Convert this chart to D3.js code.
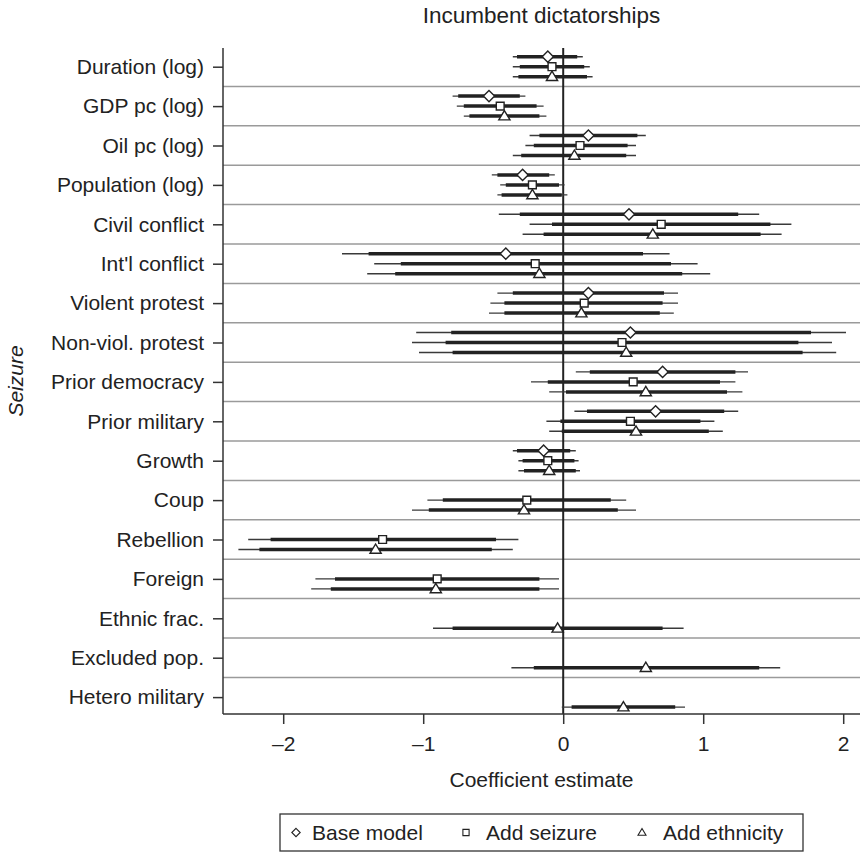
<!DOCTYPE html>
<html>
<head>
<meta charset="utf-8">
<script src="https://cdn.jsdelivr.net/npm/d3@7"></script>
<style>
  html, body { margin: 0; padding: 0; background: #fff; }
  svg { display: block; font-family: "Liberation Sans", Arial, Helvetica, sans-serif; }
</style>
</head>
<body>
<svg id="chart" width="865" height="856"></svg>
<script>
// Covariates (rows, top to bottom)
const categories = [
  "Duration (log)", "GDP pc (log)", "Oil pc (log)", "Population (log)",
  "Civil conflict", "Int'l conflict", "Violent protest", "Non-viol. protest",
  "Prior democracy", "Prior military", "Growth", "Coup", "Rebellion",
  "Foreign", "Ethnic frac.", "Excluded pop.", "Hetero military"
];

const seriesNames = ["Base model", "Add seizure", "Add ethnicity"];
const xTicks = [-2, -1, 0, 1, 2];

// Each model: [estimate, lower 95%, lower 90%, upper 90%, upper 95%]; null = not in model
const baseModel = [
  [-0.11, -0.36, -0.33, 0.10, 0.14],
  [-0.53, -0.79, -0.75, -0.31, -0.27],
  [0.18, -0.24, -0.17, 0.53, 0.59],
  [-0.29, -0.51, -0.47, -0.10, -0.06],
  [0.47, -0.46, -0.31, 1.25, 1.40],
  [-0.41, -1.58, -1.39, 0.57, 0.76],
  [0.18, -0.47, -0.36, 0.72, 0.82],
  [0.48, -1.05, -0.80, 1.77, 2.02],
  [0.71, 0.09, 0.19, 1.23, 1.32],
  [0.66, 0.08, 0.17, 1.15, 1.25],
  [-0.14, -0.36, -0.33, 0.05, 0.09],
  null, null, null, null, null, null
];

const addSeizure = [
  [-0.08, -0.36, -0.31, 0.15, 0.19],
  [-0.45, -0.76, -0.71, -0.19, -0.14],
  [0.12, -0.27, -0.21, 0.46, 0.52],
  [-0.22, -0.45, -0.41, -0.03, 0.01],
  [0.70, -0.24, -0.08, 1.48, 1.63],
  [-0.20, -1.35, -1.16, 0.77, 0.96],
  [0.15, -0.52, -0.42, 0.71, 0.82],
  [0.42, -1.08, -0.84, 1.68, 1.92],
  [0.50, -0.23, -0.11, 1.12, 1.23],
  [0.48, -0.12, -0.02, 0.98, 1.08],
  [-0.11, -0.32, -0.29, 0.08, 0.11],
  [-0.26, -0.97, -0.86, 0.34, 0.45],
  [-1.29, -2.25, -2.09, -0.48, -0.32],
  [-0.90, -1.77, -1.63, -0.17, -0.03],
  null, null, null
];

const addEthnicity = [
  [-0.08, -0.36, -0.32, 0.17, 0.21],
  [-0.42, -0.71, -0.67, -0.17, -0.12],
  [0.08, -0.36, -0.30, 0.45, 0.52],
  [-0.22, -0.47, -0.44, -0.01, 0.03],
  [0.64, -0.29, -0.14, 1.41, 1.56],
  [-0.17, -1.40, -1.20, 0.85, 1.05],
  [0.13, -0.53, -0.42, 0.69, 0.79],
  [0.45, -1.03, -0.79, 1.71, 1.95],
  [0.59, -0.10, 0.02, 1.17, 1.28],
  [0.52, -0.10, -0.01, 1.04, 1.14],
  [-0.10, -0.32, -0.28, 0.09, 0.12],
  [-0.28, -1.08, -0.96, 0.39, 0.52],
  [-1.34, -2.32, -2.17, -0.51, -0.36],
  [-0.91, -1.80, -1.66, -0.17, -0.03],
  [-0.04, -0.93, -0.79, 0.71, 0.86],
  [0.59, -0.37, -0.21, 1.40, 1.55],
  [0.43, -0.01, 0.06, 0.80, 0.87]
];

const models = [baseModel, addSeizure, addEthnicity];

// ---- layout ----
const plot = { left: 223, right: 860, top: 48, bottom: 714 };
const textColor = "#222";
const fontSize = 21;

const svg = d3.select("#chart");

const x = d3.scaleLinear().domain([-2.43, 2.12]).range([plot.left, plot.right]);
const y = d3.scalePoint().domain(categories).range([66.7, 697.1]);
const step = y.step();
const offset = d3.scaleOrdinal().domain([0, 1, 2]).range([-10, 0, 10]);

// horizontal separators between rows
svg.append("g")
  .selectAll("line")
  .data(categories.slice(1))
  .join("line")
  .attr("x1", plot.left).attr("x2", plot.right)
  .attr("y1", d => y(d) - step / 2).attr("y2", d => y(d) - step / 2)
  .attr("stroke", "#9a9a9a").attr("stroke-width", 1.5);

// reference line at zero
svg.append("line")
  .attr("x1", x(0)).attr("x2", x(0))
  .attr("y1", plot.top).attr("y2", plot.bottom)
  .attr("stroke", "#222").attr("stroke-width", 2);

// left axis
const yAxis = svg.append("g")
  .attr("transform", `translate(${plot.left},0)`)
  .call(d3.axisLeft(y).tickSize(10).tickPadding(9));
yAxis.select(".domain").remove();
yAxis.selectAll(".tick line").attr("stroke", "#333").attr("stroke-width", 1.5);
yAxis.selectAll(".tick text")
  .attr("fill", textColor).style("font-size", fontSize + "px")
  .style("font-family", "Liberation Sans, Arial, sans-serif");

svg.append("line")
  .attr("x1", plot.left).attr("x2", plot.left)
  .attr("y1", plot.top).attr("y2", plot.bottom)
  .attr("stroke", "#333").attr("stroke-width", 1.5);

// bottom axis
const xAxis = svg.append("g")
  .attr("transform", `translate(0,${plot.bottom})`)
  .call(d3.axisBottom(x).tickValues(xTicks).tickSize(10).tickPadding(12)
    .tickFormat(d => d < 0 ? "\u2013" + Math.abs(d) : String(d)));
xAxis.select(".domain").remove();
xAxis.selectAll(".tick line").attr("stroke", "#333").attr("stroke-width", 1.5);
xAxis.selectAll(".tick text")
  .attr("fill", textColor).style("font-size", fontSize + "px")
  .style("font-family", "Liberation Sans, Arial, sans-serif");

svg.append("line")
  .attr("x1", plot.left).attr("x2", plot.right)
  .attr("y1", plot.bottom).attr("y2", plot.bottom)
  .attr("stroke", "#333").attr("stroke-width", 1.5);

// marker shapes: diamond, square, flattened triangle
function diamondPath(r) {
  const p = d3.path();
  p.moveTo(0, -r); p.lineTo(r, 0); p.lineTo(0, r); p.lineTo(-r, 0); p.closePath();
  return p.toString();
}
function squarePath(h) {
  const p = d3.path();
  p.rect(-h, -h, 2 * h, 2 * h);
  return p.toString();
}
function trianglePath(w, up, down) {
  const p = d3.path();
  p.moveTo(0, -up); p.lineTo(w, down); p.lineTo(-w, down); p.closePath();
  return p.toString();
}
const markers = [diamondPath(5.6), squarePath(3.9), trianglePath(5.6, 5.5, 3.8)];
const legendMarkers = [diamondPath(4.2), squarePath(3.1), trianglePath(4, 4, 2.8)];

// intervals and estimates
models.forEach((model, m) => {
  const rows = categories
    .map((c, i) => ({ cat: c, v: model[i] }))
    .filter(d => d.v !== null);
  const g = svg.append("g");
  const yy = d => y(d.cat) + offset(m);

  g.selectAll("line.ci95").data(rows).join("line")
    .attr("class", "ci95")
    .attr("x1", d => x(d.v[1])).attr("x2", d => x(d.v[4]))
    .attr("y1", yy).attr("y2", yy)
    .attr("stroke", "#3a3a3a").attr("stroke-width", 1.4);

  g.selectAll("line.ci90").data(rows).join("line")
    .attr("class", "ci90")
    .attr("x1", d => x(d.v[2])).attr("x2", d => x(d.v[3]))
    .attr("y1", yy).attr("y2", yy)
    .attr("stroke", "#222").attr("stroke-width", 3.5);

  g.selectAll("path").data(rows).join("path")
    .attr("d", markers[m])
    .attr("transform", d => `translate(${x(d.v[0])},${yy(d)})`)
    .attr("fill", "#fff").attr("stroke", "#222").attr("stroke-width", 1.4);
});

// title
svg.append("text")
  .attr("x", (plot.left + plot.right) / 2).attr("y", 23)
  .attr("text-anchor", "middle")
  .attr("fill", textColor).style("font-size", "22.5px")
  .text("Incumbent dictatorships");

// axis titles
svg.append("text")
  .attr("x", (plot.left + plot.right) / 2).attr("y", 787)
  .attr("text-anchor", "middle")
  .attr("fill", textColor).style("font-size", fontSize + "px")
  .text("Coefficient estimate");

svg.append("text")
  .attr("transform", `translate(23,${(plot.top + plot.bottom) / 2}) rotate(-90)`)
  .attr("text-anchor", "middle")
  .attr("fill", textColor).style("font-size", fontSize + "px")
  .style("font-style", "italic")
  .text("Seizure");

// legend
const legend = { x: 280, y: 814, w: 523, h: 37 };
svg.append("rect")
  .attr("x", legend.x).attr("y", legend.y)
  .attr("width", legend.w).attr("height", legend.h)
  .attr("fill", "#fff").attr("stroke", "#333").attr("stroke-width", 1.3);

const legendX = [296, 466, 642];
const lg = svg.append("g").selectAll("g").data(seriesNames).join("g")
  .attr("transform", (d, i) => `translate(${legendX[i]},${legend.y + legend.h / 2})`);
lg.append("path")
  .attr("d", (d, i) => legendMarkers[i])
  .attr("fill", "#fff").attr("stroke", "#222").attr("stroke-width", 1.1);
lg.append("text")
  .attr("x", (d, i) => [16, 20, 21][i]).attr("y", 7.5)
  .attr("fill", textColor).style("font-size", fontSize + "px")
  .text(d => d);
</script>
</body>
</html>
